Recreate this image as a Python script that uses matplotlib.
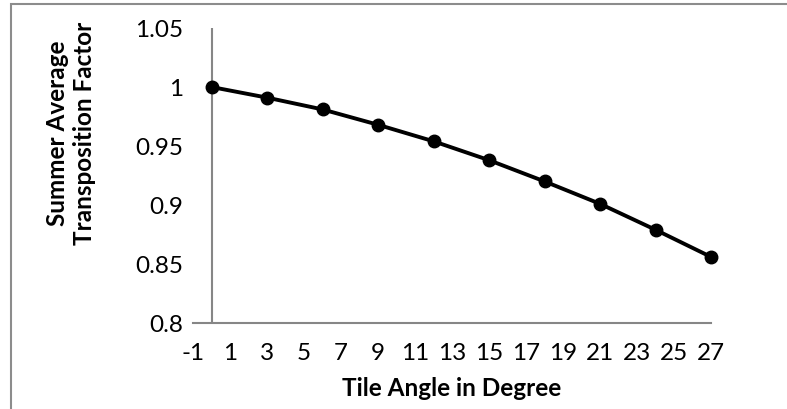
import numpy as np
from matplotlib import pyplot as plt
from matplotlib.patches import Rectangle
from matplotlib.ticker import FuncFormatter

# tilt angles and the summer average transposition factor
tilt_angle = [0, 3, 6, 9, 12, 15, 18, 21, 24, 27]
transposition_factor = [1.000, 0.991, 0.981, 0.968, 0.954, 0.938, 0.920, 0.901, 0.879, 0.856]

x_ticks = list(range(-1, 28, 2))
y_ticks = [0.8, 0.85, 0.9, 0.95, 1.0, 1.05]

axis_grey = '#868686'


def main():
    plt.rcParams['font.family'] = ['Lato', 'DejaVu Sans']
    plt.rcParams['axes.unicode_minus'] = False

    W, H = 787, 410
    fig = plt.figure(figsize=(W / 100, H / 100), dpi=100)

    # plot area in pixels
    left, right, top, bottom = 193, 711, 29, 324
    ax = fig.add_axes([left / W, 1 - bottom / H, (right - left) / W, (bottom - top) / H])

    ax.plot(tilt_angle, transposition_factor, color='black', linewidth=2.8,
            marker='o', markersize=9, clip_on=False, zorder=5)

    ax.set_xlim(-1, 27)
    ax.set_ylim(0.8, 1.05)
    ax.set_xticks(x_ticks)
    ax.set_yticks(y_ticks)
    ax.yaxis.set_major_formatter(FuncFormatter(lambda v, p: f'{v:g}'))

    # axes lines
    for side in ['top', 'right', 'left']:
        ax.spines[side].set_visible(False)
    ax.spines['bottom'].set_color(axis_grey)
    ax.spines['bottom'].set_linewidth(1.5)
    ax.axvline(0, color=axis_grey, linewidth=1.5, zorder=1)

    ax.tick_params(length=0, labelsize=17.5, colors='black')
    ax.tick_params(axis='y', pad=7)
    ax.tick_params(axis='x', pad=14)

    # axis titles
    fig.text(452 / W, 1 - 389 / H, 'Tile Angle in Degree', ha='center', va='center',
             fontsize=17.5, fontweight='bold')
    fig.text(71 / W, 1 - 133 / H, 'Summer Average\nTransposition Factor', ha='center',
             va='center', rotation=90, fontsize=17.5, fontweight='bold', linespacing=1.2,
             multialignment='center')

    # chart border (only top and left edge visible)
    fig.patches.append(Rectangle((11 / W, -0.1), 1.2, 1 - 5 / H + 0.1, transform=fig.transFigure,
                                 fill=False, edgecolor='#8c8c8c', linewidth=1.5))

    fig.savefig('out.png', dpi=100)


if __name__ == '__main__':
    main()
